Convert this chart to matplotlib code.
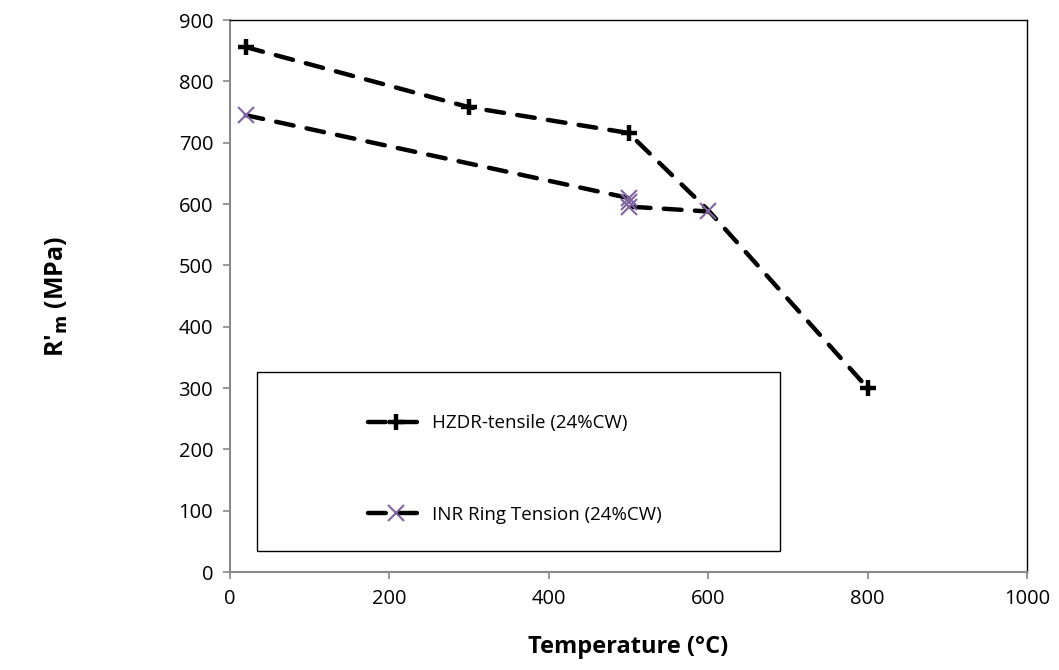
import matplotlib
matplotlib.use("Agg")
import matplotlib.pyplot as plt
from matplotlib.patches import Rectangle

# Data
hzdr_temp = [20, 300, 500, 600, 800]
hzdr_rm = [856, 758, 716, 590, 300]
inr_temp = [20, 500, 500, 500, 600]
inr_rm = [745, 610, 603, 596, 588]
hzdr_label = "HZDR-tensile (24%CW)"
inr_label = "INR Ring Tension (24%CW)"
x_ticks = [0, 200, 400, 600, 800, 1000]
y_ticks = [0, 100, 200, 300, 400, 500, 600, 700, 800, 900]

plt.rcParams['font.family'] = ['Open Sans', 'DejaVu Sans']

fig = plt.figure(figsize=(10.59, 6.70), dpi=100)
ax = fig.add_axes([0.217, 0.146, 0.753, 0.824])

dash = (4.0, 3.0)
l1, = ax.plot(hzdr_temp, hzdr_rm, color='black', lw=3.2, dashes=dash,
              dash_capstyle='round',
              marker='+', markersize=12, markeredgewidth=3.2,
              markevery=[0, 1, 2, 4], label=hzdr_label, zorder=3)
l2, = ax.plot(inr_temp, inr_rm, color='black', lw=3.2, dashes=dash,
              dash_capstyle='round',
              marker='x', markersize=11, markeredgewidth=1.5,
              markeredgecolor='#8064A2', label=inr_label, zorder=3)

ax.set_xlim(0, 1000)
ax.set_ylim(0, 900)
ax.set_xticks(x_ticks)
ax.set_yticks(y_ticks)
ax.tick_params(axis='both', direction='out', length=5, width=1.2,
               color='#888888', labelsize=14.5, pad=7)

for s in ['left', 'bottom']:
    ax.spines[s].set_color('#888888')
    ax.spines[s].set_linewidth(1.5)
for s in ['top', 'right']:
    ax.spines[s].set_color('black')
    ax.spines[s].set_linewidth(1.0)

ax.set_xlabel('Temperature (°C)', fontsize=17, fontweight='bold', labelpad=19)
ax.set_ylabel(r"R'$_\mathbf{m}$ (MPa)", fontsize=18, fontweight='bold', labelpad=78)

# Legend box
ax.add_patch(Rectangle((0.034, 0.038), 0.656, 0.324, transform=ax.transAxes,
                       fill=False, edgecolor='black', lw=1.0, zorder=4))
leg = ax.legend(handles=[l1, l2], loc='upper left',
                bbox_to_anchor=(0.155, 0.313), frameon=False,
                fontsize=13.5, labelspacing=3.9, handlelength=2.9,
                handletextpad=0.5, borderpad=0.3)

fig.savefig('out.png', dpi=100)
